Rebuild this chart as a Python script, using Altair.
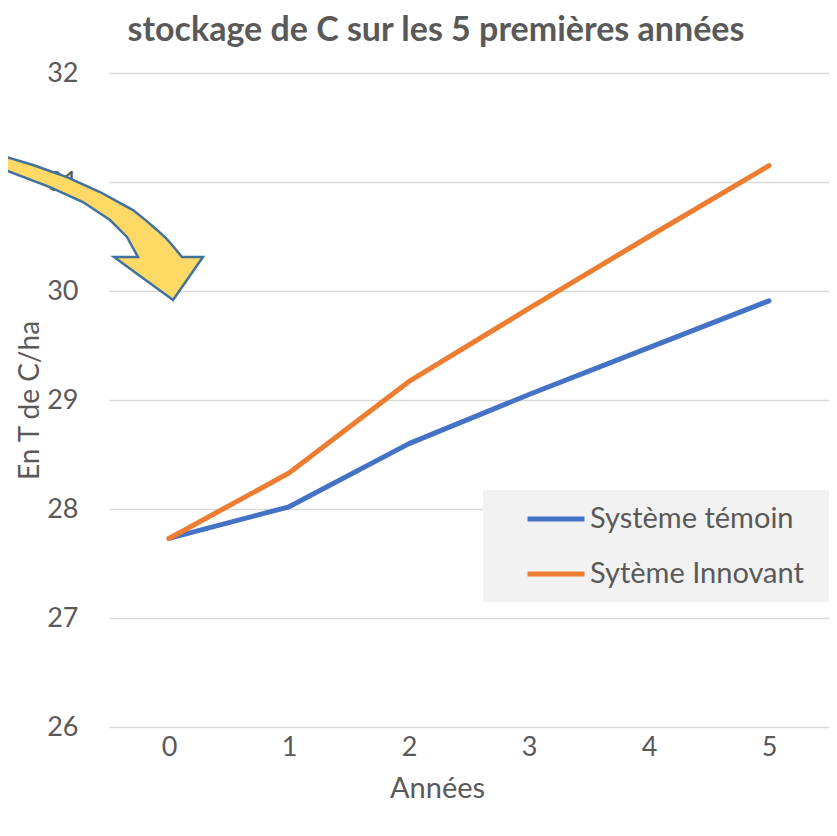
import altair as alt
import pandas as pd

years = ["0", "1", "2", "3", "4", "5"]
temoin = [27.73, 28.02, 28.60, 29.05, 29.48, 29.91]
innovant = [27.73, 28.33, 29.17, 29.84, 30.50, 31.15]
series = ["Système témoin", "Sytème Innovant"]
colors = ["#4472C4", "#ED7D31"]
y_ticks = [26, 27, 28, 29, 30, 31, 32]

df = pd.DataFrame({
    "Années": years * 2,
    "val": temoin + innovant,
    "serie": [series[0]] * len(years) + [series[1]] * len(years),
})

W, H = 720, 654
FONT = "Lato"
GREY = "#595959"

ARROW = ("M -1.0 -0.673 L -0.909 -0.636 L -0.609 -0.545 L -0.3 -0.436 L 0 -0.3 "
         "L 0.3 -0.136 L 0.42 -0.04 L 0.518 0.045 L 0.6 0.12 L 0.655 0.182 L 0.745 0.291 "
         "L 0.936 0.291 L 0.664 0.682 L 0.127 0.291 L 0.345 0.291 "
         "L 0.245 0.109 L 0.091 -0.045 L -0.155 -0.209 L -0.455 -0.345 "
         "L -0.909 -0.518 L -1.0 -0.545 Z")
LEGEND_LINE = "M -2 0 L 2 0"

one = pd.DataFrame({"k": [0]})

legend_bg = alt.Chart(one).mark_rect(color="#f2f2f2").encode(
    x=alt.value(374), x2=alt.value(720), y=alt.value(417), y2=alt.value(529)
)

lines = alt.Chart(df).mark_line(strokeWidth=5, strokeCap="round", strokeJoin="round").encode(
    x=alt.X("Années:O", sort=years, title="Années",
            axis=alt.Axis(labelAngle=0, ticks=False, domain=False, grid=False,
                          labelFontSize=27, labelPadding=7, labelColor=GREY,
                          titleFontSize=29, titleColor=GREY, titleFontWeight="normal",
                          titleX=328, titleY=61, titleBaseline="middle")),
    y=alt.Y("val:Q", title="En T de C/ha",
            scale=alt.Scale(domain=[26, 32], nice=False, zero=False),
            axis=alt.Axis(values=y_ticks, ticks=False, domain=False, grid=True,
                          gridColor="#d9d9d9", gridWidth=1.5,
                          labelFontSize=27, labelPadding=31, labelColor=GREY,
                          titleFontSize=28, titleColor=GREY, titleFontWeight="normal",
                          titleAngle=-90, titleX=-79, titleY=327,
                          titleAlign="center", titleBaseline="middle")),
    color=alt.Color("serie:N", scale=alt.Scale(domain=series, range=colors),
                    legend=alt.Legend(title=None, orient="none", legendX=430, legendY=429,
                                      symbolType=LEGEND_LINE, symbolSize=812,
                                      symbolStrokeWidth=5, labelFontSize=29,
                                      labelColor=GREY, labelFont=FONT, labelOffset=17,
                                      rowPadding=23, padding=0, labelLimit=400)),
)

arrow = alt.Chart(one).mark_point(
    shape=ARROW, filled=True, fill="#FFD966", stroke="#41719C",
    strokeWidth=2.5, strokeJoin="miter", opacity=1, fillOpacity=1, size=48400
).encode(x=alt.value(-9), y=alt.value(152))

chart = alt.layer(legend_bg, lines, arrow).properties(
    width=W, height=H,
    title=alt.TitleParams("stockage de C sur les 5 premières années",
                          fontSize=34, fontWeight="bold", color=GREY, font=FONT,
                          anchor="middle", dx=-33, offset=11),
    autosize=alt.AutoSizeParams(type="none"),
    padding={"left": 101, "top": 65, "right": 0, "bottom": 90},
).configure(font=FONT).configure_view(stroke=None)

chart.save("out.html", embed_options={"renderer": "svg", "actions": False})
